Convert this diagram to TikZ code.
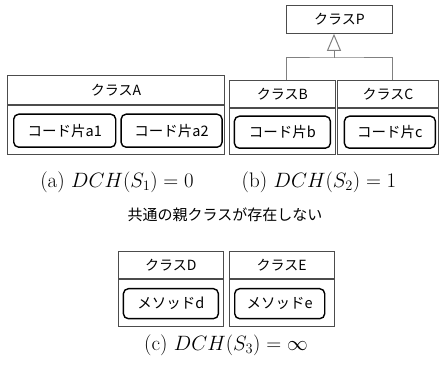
\documentclass[tikz,border=0pt]{standalone}
\usepackage{fontspec}
\newfontfamily\jpfont{Noto Sans CJK JP}
\usetikzlibrary{positioning,arrows.meta}
\tikzset{>=latex}
\def\jpsize#1{\jpfont\fontsize{#1}{#1}\selectfont}

\tikzset{
  clshd/.style={rectangle, draw=black!70, line width=0.8pt, inner sep=0pt, anchor=north west, font=\jpsize{14}},
  clsbd/.style={rectangle, draw=black!70, line width=0.8pt, inner sep=0pt},
  frag/.style={rectangle, draw=black, line width=1.4pt, rounded corners=5pt, inner sep=0pt, font=\jpsize{14.5}},
  subcap/.style={inner sep=0pt, font=\fontsize{21}{21}\selectfont},
  link/.style={draw=black!50, line width=1pt},
}

\begin{document}
\begin{tikzpicture}[x=1pt, y=-1pt]
          \useasboundingbox (0,0) rectangle (440,371);

          % (a)
          \node[clshd, minimum width=217pt, minimum height=29pt] (ahd) at (7,75) {クラスA};
          \node[clsbd, minimum width=217pt, minimum height=49pt, below=0pt of ahd] (abd) {};
          \node[frag, minimum width=102pt, minimum height=33pt, anchor=west] (fa1) at ([xshift=6pt, yshift=-1pt]abd.west) {コード片a1};
          \node[frag, minimum width=101pt, minimum height=33pt, right=4pt of fa1] (fa2) {コード片a2};

          % (b)
          \node[clshd, minimum width=106pt, minimum height=28pt] (phd) at (286,5) {クラスP};
          \node[clshd, minimum width=106pt, minimum height=27pt] (bhd) at (229,80) {クラスB};
          \node[clsbd, minimum width=106pt, minimum height=46pt, below=0pt of bhd] (bbd) {};
          \node[frag, minimum width=96pt, minimum height=32pt] (fb) at ([yshift=-1pt]bbd.center) {コード片b};
          \node[clshd, minimum width=101pt, minimum height=27pt] (chd) at (337,80) {クラスC};
          \node[clsbd, minimum width=101pt, minimum height=46pt, below=0pt of chd] (cbd) {};
          \node[frag, minimum width=91pt, minimum height=32pt] (fc) at ([xshift=2pt, yshift=-1pt]cbd.center) {コード片c};

          \coordinate (jn) at (334,58);
          \path[link] (phd.west |- bhd.north) |- (jn) -| (phd.east |- chd.north);
          \path[link, -{Triangle[open, width=14pt, length=17pt]}] (jn) -- (jn |- phd.south);

          \node[subcap] (capa) at (117,182) {(a) $DCH(S_1) = 0$};
          \node[subcap] (capb) at (319,182) {(b) $DCH(S_2) = 1$};

          % (c)
          \node[inner sep=0pt, font=\jpsize{15}] (nop) at (225,215) {共通の親クラスが存在しない};
          \node[clshd, minimum width=105pt, minimum height=27pt] (dhd) at (118,251) {クラスD};
          \node[clsbd, minimum width=105pt, minimum height=47pt, below=0pt of dhd] (dbd) {};
          \node[frag, minimum width=95pt, minimum height=30pt] (fd) at ([yshift=-1pt]dbd.center) {メソッドd};
          \node[clshd, minimum width=105pt, minimum height=27pt, right=5pt of dhd] (ehd) {クラスE};
          \node[clsbd, minimum width=105pt, minimum height=47pt, below=0pt of ehd] (ebd) {};
          \node[frag, minimum width=90pt, minimum height=30pt] (fe) at ([xshift=-2pt, yshift=-1pt]ebd.center) {メソッドe};

          \node[subcap] (capc) at (226,345) {(c) $DCH(S_3) = \infty$};
\end{tikzpicture}
\end{document}
